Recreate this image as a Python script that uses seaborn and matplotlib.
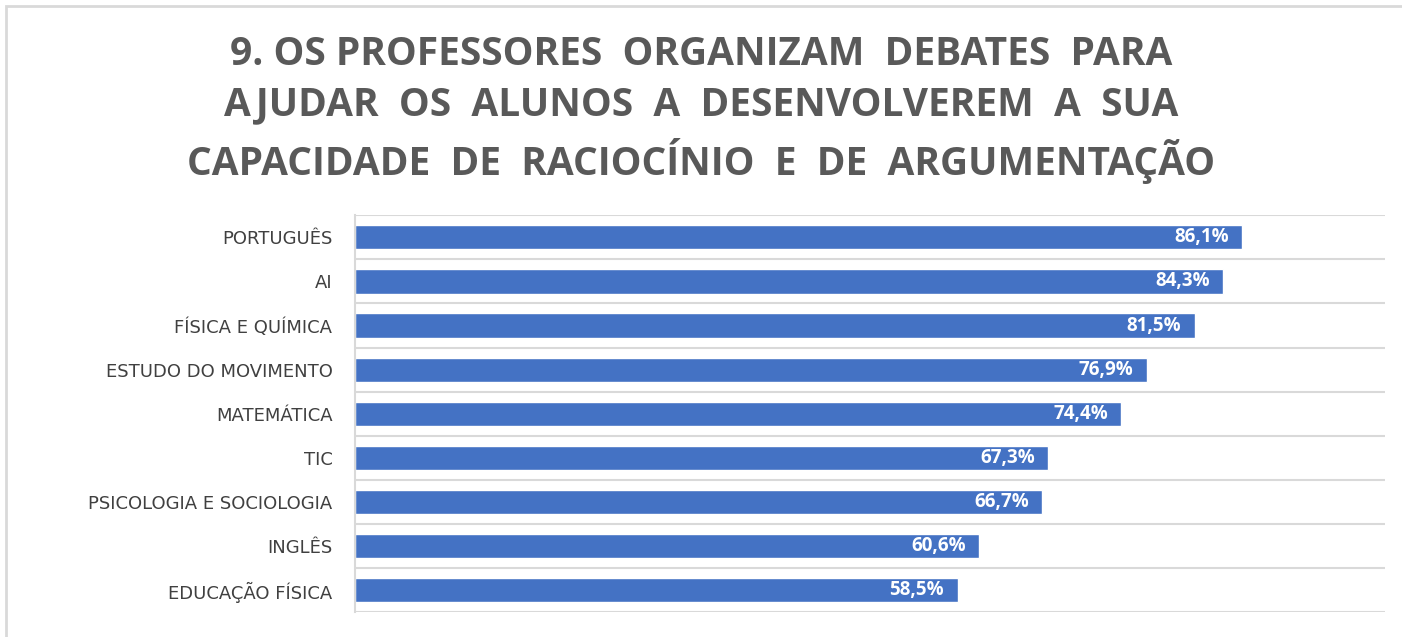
import matplotlib.pyplot as plt
import numpy as np
import pandas as pd
import seaborn as sns

# Data
disciplinas = ['PORTUGUÊS', 'AI', 'FÍSICA E QUÍMICA', 'ESTUDO DO MOVIMENTO', 'MATEMÁTICA',
               'TIC', 'PSICOLOGIA E SOCIOLOGIA', 'INGLÊS', 'EDUCAÇÃO FÍSICA']
percentagens = [86.1, 84.3, 81.5, 76.9, 74.4, 67.3, 66.7, 60.6, 58.5]
rotulos = ['86,1%', '84,3%', '81,5%', '76,9%', '74,4%', '67,3%', '66,7%', '60,6%', '58,5%']

titulo = ('9. OS PROFESSORES  ORGANIZAM  DEBATES  PARA\n'
          'AJUDAR  OS  ALUNOS  A  DESENVOLVEREM  A  SUA\n'
          'CAPACIDADE  DE  RACIOCÍNIO  E  DE  ARGUMENTAÇÃO')

df = pd.DataFrame({'disciplina': disciplinas, 'pct': percentagens})

sns.set_style('white')
plt.rcParams['font.family'] = ['Open Sans', 'DejaVu Sans']

fig = plt.figure(figsize=(14.02, 6.37), dpi=100)
ax = fig.add_axes([0.253, 0.039, 0.735, 0.623])

sns.barplot(data=df, y='disciplina', x='pct', orient='h', color='#4472C4',
            width=0.55, saturation=1, ax=ax)

ax.set_xlim(0, 100)
ax.set_ylim(len(disciplinas) - 0.5, -0.5)
ax.set_xticks([])
ax.set_xlabel('')
ax.set_ylabel('')

# gridlines between categories
ax.set_yticks(np.arange(-0.5, len(disciplinas)), minor=True)
ax.grid(which='minor', axis='y', color='#D9D9D9', linewidth=1.5)
ax.tick_params(axis='y', which='both', length=0, pad=16)
for lbl in ax.get_yticklabels():
    lbl.set_fontsize(13)
    lbl.set_color('#404040')
    lbl.set_family(['DejaVu Sans'])

for s in ['top', 'right', 'bottom']:
    ax.spines[s].set_visible(False)
ax.spines['left'].set_color('#D9D9D9')
ax.spines['left'].set_linewidth(1.5)

for p, txt in zip(ax.patches, rotulos):
    ax.text(p.get_width() - 1.3, p.get_y() + p.get_height() / 2, txt,
            ha='right', va='center', color='white', fontsize=13.5,
            fontweight='bold')

fig.text(0.5, 0.828, titulo, ha='center', va='center', fontsize=28,
         fontweight='bold', color='#595959', linespacing=1.38)

# outer frame
fig.patches.append(plt.Rectangle((0.004, -0.01), 1.1, 1.0, transform=fig.transFigure,
                                 fill=False, edgecolor='#D9D9D9', linewidth=2))

fig.savefig('out.png', dpi=100)
